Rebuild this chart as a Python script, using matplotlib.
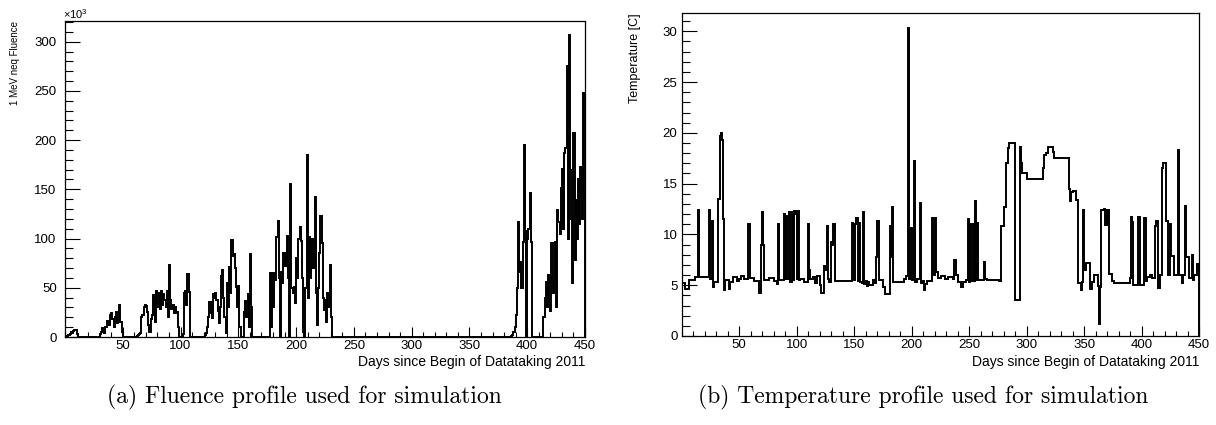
import matplotlib
matplotlib.use("Agg")
import matplotlib.pyplot as plt
from matplotlib.ticker import MultipleLocator

plt.rcParams["font.family"] = ["Liberation Sans", "DejaVu Sans"]
plt.rcParams["mathtext.fontset"] = "custom"
plt.rcParams["mathtext.rm"] = "Liberation Sans"

# ---- Fluence profile: day where each level starts, level in units of 1e3 ----
fluence_days = [
    0, 2, 3, 4, 5, 6, 7, 8, 10, 11,
    30, 31, 32, 33, 34, 35, 36, 37, 38, 39, 40, 41, 42, 43, 44, 45, 46, 47, 48, 49, 50,
    62, 63, 64, 65, 66, 67, 68, 69, 70, 71, 72, 73, 74, 75, 76, 77, 78, 79, 80,
    81, 82, 83, 84, 85, 86, 87, 88, 89, 90, 91, 92, 93, 94, 95, 96, 97, 98, 99,
    102, 103, 104, 105, 106, 107, 108,
    121, 122, 123, 124, 125, 126, 127, 128, 129, 130, 131, 132, 133, 134, 135, 136,
    137, 138, 139, 140, 141, 142, 143, 144, 145, 146, 147, 148, 149, 150, 151, 152,
    155, 156, 157, 158, 159, 160, 161, 162,
    177, 178, 179, 180, 181, 182, 183, 184, 185, 186, 187, 188, 189, 190, 191, 192,
    193, 194, 195, 196, 197, 198, 199, 200, 201, 202, 203, 204, 205, 206, 207, 208,
    209, 210, 211, 212, 213, 214, 215, 216, 217, 218, 219, 220, 221, 222, 223, 224,
    225, 226, 227, 228, 229, 230, 231,
    386, 387, 388, 389, 390, 391, 392, 393, 394, 395, 396, 397, 398, 399, 400, 401,
    402, 403, 404,
    414, 415, 416, 417, 418, 419, 420, 421, 422, 423, 424, 425, 426, 427, 428, 429,
    430, 431, 432, 433, 434, 435, 436, 437, 438, 439, 440, 441, 442, 443, 444, 445,
    446, 447, 448, 449,
]
fluence_k = [
    0, 1, 2, 3, 5, 4, 6, 7, 3, 0,
    3, 5, 9, 6, 4, 10, 16, 15, 12, 22, 24, 18, 10, 20, 25, 14, 22, 33, 15, 5, 0,
    1, 2, 3, 4, 20, 22, 30, 33, 31, 25, 12, 5, 18, 22, 43, 35, 15, 47, 30,
    45, 28, 47, 33, 44, 38, 30, 47, 20, 73, 38, 28, 32, 24, 30, 24, 25, 10, 0,
    3, 45, 47, 33, 64, 46, 0,
    2, 4, 10, 20, 36, 24, 19, 44, 40, 45, 38, 26, 14, 30, 62, 68,
    40, 20, 4, 55, 30, 71, 45, 99, 82, 84, 70, 51, 30, 52, 10, 0,
    25, 37, 20, 44, 10, 84, 30, 0,
    65, 10, 65, 30, 65, 58, 102, 118, 60, 0, 66, 55, 85, 72, 80, 103,
    60, 0, 155, 50, 45, 51, 35, 80, 60, 100, 112, 98, 60, 5, 0, 50,
    185, 40, 102, 60, 97, 100, 70, 142, 45, 12, 50, 85, 123, 95, 40, 27,
    38, 15, 45, 30, 73, 20, 0,
    1, 2, 5, 10, 22, 50, 117, 66, 76, 50, 97, 195, 108, 0, 100, 110,
    146, 97, 0,
    20, 40, 56, 30, 63, 40, 26, 95, 45, 58, 97, 30, 129, 117, 105, 151,
    171, 110, 187, 192, 275, 100, 307, 170, 120, 55, 207, 78, 139, 100, 160, 115,
    173, 120, 248, 140,
]

# ---- Temperature profile: day where each level starts, level in degrees C ----
temp_days = [
    0, 3, 6, 12, 14, 15, 24, 25, 26, 27, 28, 32, 33, 34, 35, 36, 37, 38, 41, 42,
    45, 48, 50, 52, 54, 58, 59, 63, 67, 69, 70, 71, 72, 76, 80, 83, 84, 85, 89, 90,
    91, 92, 93, 94, 96, 97, 98, 99, 100, 101, 102, 103, 106, 110, 111, 112, 114, 116, 118, 120,
    121, 124, 125, 126, 127, 128, 130, 131, 132, 133, 148, 149, 150, 151, 152, 153, 154, 155, 157, 158,
    159, 160, 161, 162, 163, 166, 168, 169, 170, 172, 175, 177, 181, 182, 183, 184, 193, 195, 197, 198,
    199, 200, 201, 202, 203, 205, 207, 208, 209, 211, 212, 213, 218, 219, 220, 221, 223, 226, 229, 232,
    236, 237, 239, 240, 243, 245, 247, 249, 250, 251, 252, 253, 254, 255, 256, 257, 258, 263, 264, 266,
    276, 278, 280, 282, 284, 285, 290, 294, 295, 296, 300, 314, 315, 317, 319, 323, 324, 337, 338, 339,
    340, 343, 345, 347, 348, 349, 350, 352, 355, 357, 359, 362, 363, 364, 365, 367, 368, 369, 370, 371,
    372, 374, 376, 390, 391, 392, 393, 397, 399, 402, 404, 405, 407, 409, 412, 413, 414, 416, 418, 419,
    421, 423, 425, 426, 428, 432, 433, 435, 436, 438, 439, 441, 444, 445, 446, 448, 449,
]
temp_c = [
    5.2, 4.6, 5.5, 5.8, 12.4, 5.8, 12.4, 5.6, 11.3, 4.8, 5.3, 13.5, 19.7, 20.0, 19.3, 11.5, 4.5, 5.5, 4.6, 5.3,
    5.8, 5.4, 5.6, 5.9, 5.6, 11.0, 5.7, 5.4, 4.2, 9.0, 12.2, 9.0, 5.5, 5.7, 5.4, 5.1, 11.0, 5.5, 12.0, 5.6,
    11.8, 5.6, 12.2, 5.3, 12.2, 5.5, 12.3, 12.0, 5.6, 12.3, 5.5, 5.6, 5.3, 11.0, 6.5, 5.6, 5.8, 5.2, 5.9, 5.0,
    4.2, 6.9, 6.5, 10.8, 5.6, 5.3, 9.3, 9.0, 11.0, 5.4, 11.1, 10.9, 5.5, 11.0, 11.6, 5.4, 11.1, 5.3, 5.2, 12.2,
    5.1, 5.4, 4.9, 5.3, 5.0, 5.5, 5.2, 7.8, 11.3, 5.5, 4.8, 4.1, 10.8, 7.8, 12.7, 5.3, 5.6, 5.9, 30.3, 5.6,
    10.6, 5.5, 5.8, 17.2, 5.3, 5.6, 13.1, 5.2, 5.4, 4.5, 5.1, 5.4, 11.6, 6.0, 11.6, 6.3, 5.7, 5.9, 5.6, 5.8,
    5.6, 7.5, 6.0, 5.3, 4.8, 5.3, 5.5, 11.5, 5.3, 11.0, 5.4, 11.0, 5.4, 13.3, 5.5, 11.1, 5.5, 7.3, 5.6, 5.5,
    5.4, 10.8, 12.7, 17.0, 18.5, 19.0, 3.5, 18.6, 17.0, 16.0, 15.5, 16.5, 17.8, 18.0, 18.6, 18.1, 17.5, 14.5, 13.3, 14.2,
    14.3, 13.4, 5.2, 4.5, 5.3, 12.4, 6.5, 7.2, 4.6, 5.3, 6.0, 4.9, 1.2, 4.8, 12.4, 12.5, 10.9, 12.4, 10.9, 12.4,
    6.1, 5.4, 5.2, 5.7, 11.7, 11.2, 5.0, 11.7, 5.0, 11.6, 5.4, 5.8, 6.0, 5.7, 10.8, 11.3, 4.7, 6.0, 16.5, 17.0,
    11.3, 6.0, 11.0, 7.9, 6.0, 18.3, 6.0, 5.2, 6.0, 12.8, 7.8, 5.7, 8.0, 5.5, 6.0, 7.1, 7.1,
]

day_end = 450
x_label = "Days since Begin of Datataking 2011"
fluence_label = "1 MeV neq Fluence"
temp_label = "Temperature [C]"
caption_a = "(a) Fluence profile used for simulation"
caption_b = "(b) Temperature profile used for simulation"

W, H = 1216, 425
fig = plt.figure(figsize=(W / 100, H / 100), dpi=100)


def px_rect(x0, y_top, x1, y_bottom):
    return [x0 / W, 1 - y_bottom / H, (x1 - x0) / W, (y_bottom - y_top) / H]


ax1 = fig.add_axes(px_rect(65, 21, 585, 337))
ax2 = fig.add_axes(px_rect(681.7, 13, 1199, 336))


def style_axis(ax, ymax, ymajor, yminor, ypad):
    ax.set_xlim(0, day_end)
    ax.set_ylim(0, ymax)
    ax.xaxis.set_major_locator(MultipleLocator(50))
    ax.xaxis.set_minor_locator(MultipleLocator(10))
    ax.yaxis.set_major_locator(MultipleLocator(ymajor))
    ax.yaxis.set_minor_locator(MultipleLocator(yminor))
    ax.tick_params(axis="both", which="both", direction="in", top=False, right=False,
                   width=0.8, colors="black", labelsize=9.5)
    ax.tick_params(axis="x", which="major", length=7, pad=2)
    ax.tick_params(axis="x", which="minor", length=3.8)
    ax.tick_params(axis="y", which="major", length=11, pad=ypad)
    ax.tick_params(axis="y", which="minor", length=5.5)
    ax.set_xticks(list(range(50, day_end + 1, 50)))
    for s in ax.spines.values():
        s.set_linewidth(0.9)
        s.set_color("black")


ax1.stairs(fluence_k, fluence_days + [day_end], baseline=0, color="black", lw=1.4)
style_axis(ax1, 321, 50, 10, 6)

ax2.stairs(temp_c, temp_days + [day_end], baseline=0, color="black", lw=1.4)
style_axis(ax2, 31.8, 5, 1, 3)

# axis titles
fig.text(585 / W, 1 - 362 / H, x_label, ha="right", va="center", fontsize=10)
fig.text(1199 / W, 1 - 362 / H, x_label, ha="right", va="center", fontsize=10)
fig.text(15 / W, 1 - 21 / H, fluence_label, rotation=90, ha="center", va="top", fontsize=7)
fig.text(635 / W, 1 - 13 / H, temp_label, rotation=90, ha="center", va="top", fontsize=9)
fig.text(63 / W, 1 - 21 / H, r"$\mathregular{\times10^{3}}$", ha="left", va="bottom", fontsize=8)

# sub-figure captions
fig.text(304 / W, 1 - 397 / H, caption_a, ha="center", va="center", fontsize=17, family="cmr10")
fig.text(923 / W, 1 - 397 / H, caption_b, ha="center", va="center", fontsize=17, family="cmr10")

fig.savefig("out.png", dpi=100)
